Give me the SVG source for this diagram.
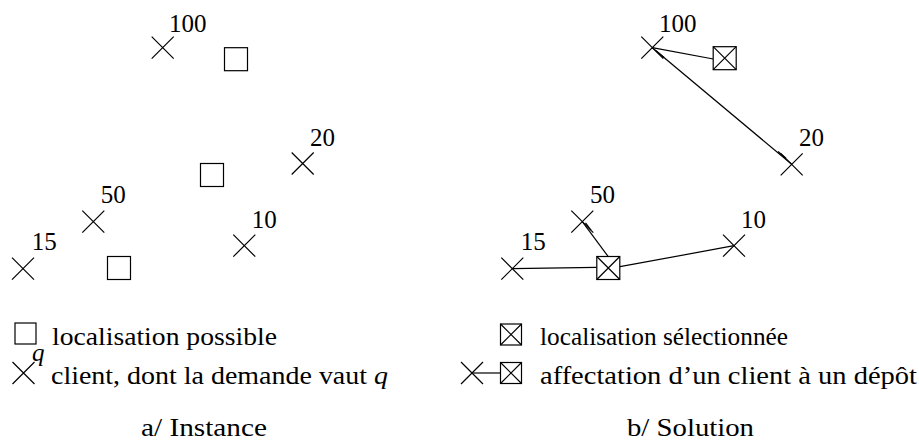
<svg xmlns="http://www.w3.org/2000/svg" width="919" height="446" viewBox="0 0 919 446" font-family="'Liberation Serif', 'DejaVu Serif', serif">
<defs>
<style>
text{font-family:'Liberation Serif','DejaVu Serif',serif;font-size:25px;fill:#000}
.x,.s,.c{stroke:#000;stroke-width:1.2;fill:none}
.s{fill:#fff}
</style>
<g id="cross"><path class="x" d="M-11,-11L11,11M-11,11L11,-11"/></g>
<g id="sq"><rect class="s" x="-11.5" y="-11.5" width="23" height="23"/></g>
<g id="bsq"><rect class="s" x="-11.5" y="-11.5" width="23" height="23"/><path class="x" d="M-11.5,-11.5L11.5,11.5M-11.5,11.5L11.5,-11.5"/></g>
<g id="lsq"><rect class="s" x="-10.5" y="-10.5" width="21" height="21"/></g>
<g id="lbsq"><rect class="s" x="-10.5" y="-10.5" width="21" height="21"/><path class="x" d="M-10.5,-10.5L10.5,10.5M-10.5,10.5L10.5,-10.5"/></g>
</defs>
<rect width="919" height="446" fill="#fff"/>

<!-- a/ Instance -->
<g id="a-c100"><use href="#cross" x="162.7" y="47.7"/><text x="169" y="32">100</text></g>
<g id="a-s1"><use href="#sq" x="236" y="59.2"/></g>
<g id="a-c20"><use href="#cross" x="302.7" y="163.5"/><text x="310" y="146">20</text></g>
<g id="a-s2"><use href="#sq" x="212" y="175"/></g>
<g id="a-c50"><use href="#cross" x="93.3" y="221.7"/><text x="100.7" y="203">50</text></g>
<g id="a-c10"><use href="#cross" x="244.3" y="245.7"/><text x="251.7" y="228">10</text></g>
<g id="a-c15"><use href="#cross" x="23" y="268.7"/><text x="31.7" y="250">15</text></g>
<g id="a-s3"><use href="#sq" x="119" y="268"/></g>

<!-- b/ Solution connectors -->
<g id="connectors">
<path class="c" d="M652.3,47.7L713.3,59"/>
<path class="c" d="M652.3,47.7L791.7,164.3"/>
<path class="c" d="M582.3,221.7L608.3,256.7"/>
<path class="c" d="M512.3,268.7L596.7,267.3"/>
<path class="c" d="M620,266.7L734,245.7"/>
<path class="c" stroke-width="1" d="M656,50.8L664,57.5"/>
<path class="c" stroke-width="1" d="M778,151.5L786,158.2"/>
<path class="c" stroke-width="1" d="M585.5,222.8L591,230.2"/>
</g>

<g id="b-c100"><use href="#cross" x="652.3" y="47.7"/><text x="659" y="32">100</text></g>
<g id="b-s1"><use href="#bsq" x="724.7" y="58.2"/></g>
<g id="b-c20"><use href="#cross" x="791.7" y="164.3"/><text x="799" y="146">20</text></g>
<g id="b-c50"><use href="#cross" x="582.3" y="221.7"/><text x="590" y="203">50</text></g>
<g id="b-c10"><use href="#cross" x="734" y="245.7"/><text x="741" y="228">10</text></g>
<g id="b-c15"><use href="#cross" x="512.3" y="268.7"/><text x="520.7" y="250">15</text></g>
<g id="b-s3"><use href="#bsq" x="608.3" y="268"/></g>

<!-- legend a -->
<g id="leg-a1"><use href="#lsq" x="25.5" y="333.5"/><text x="52" y="345" textLength="225" lengthAdjust="spacingAndGlyphs">localisation possible</text></g>
<g id="leg-a2"><use href="#cross" x="23.5" y="373"/><text x="32" y="361" font-style="italic">q</text><text x="51" y="384" textLength="337" lengthAdjust="spacingAndGlyphs">client, dont la demande vaut <tspan font-style="italic">q</tspan></text></g>
<g id="title-a"><text x="141" y="436" textLength="126" lengthAdjust="spacingAndGlyphs">a/ Instance</text></g>

<!-- legend b -->
<g id="leg-b1"><use href="#lbsq" x="511" y="334.5"/><text x="540" y="345" textLength="248" lengthAdjust="spacingAndGlyphs">localisation sélectionnée</text></g>
<g id="leg-b2"><path class="c" d="M472,373L500.5,373"/><use href="#cross" x="472" y="373"/><use href="#lbsq" x="511" y="373"/><text x="540" y="384" textLength="377" lengthAdjust="spacingAndGlyphs">affectation d’un client à un dépôt</text></g>
<g id="title-b"><text x="627" y="436" textLength="127" lengthAdjust="spacingAndGlyphs">b/ Solution</text></g>
</svg>
